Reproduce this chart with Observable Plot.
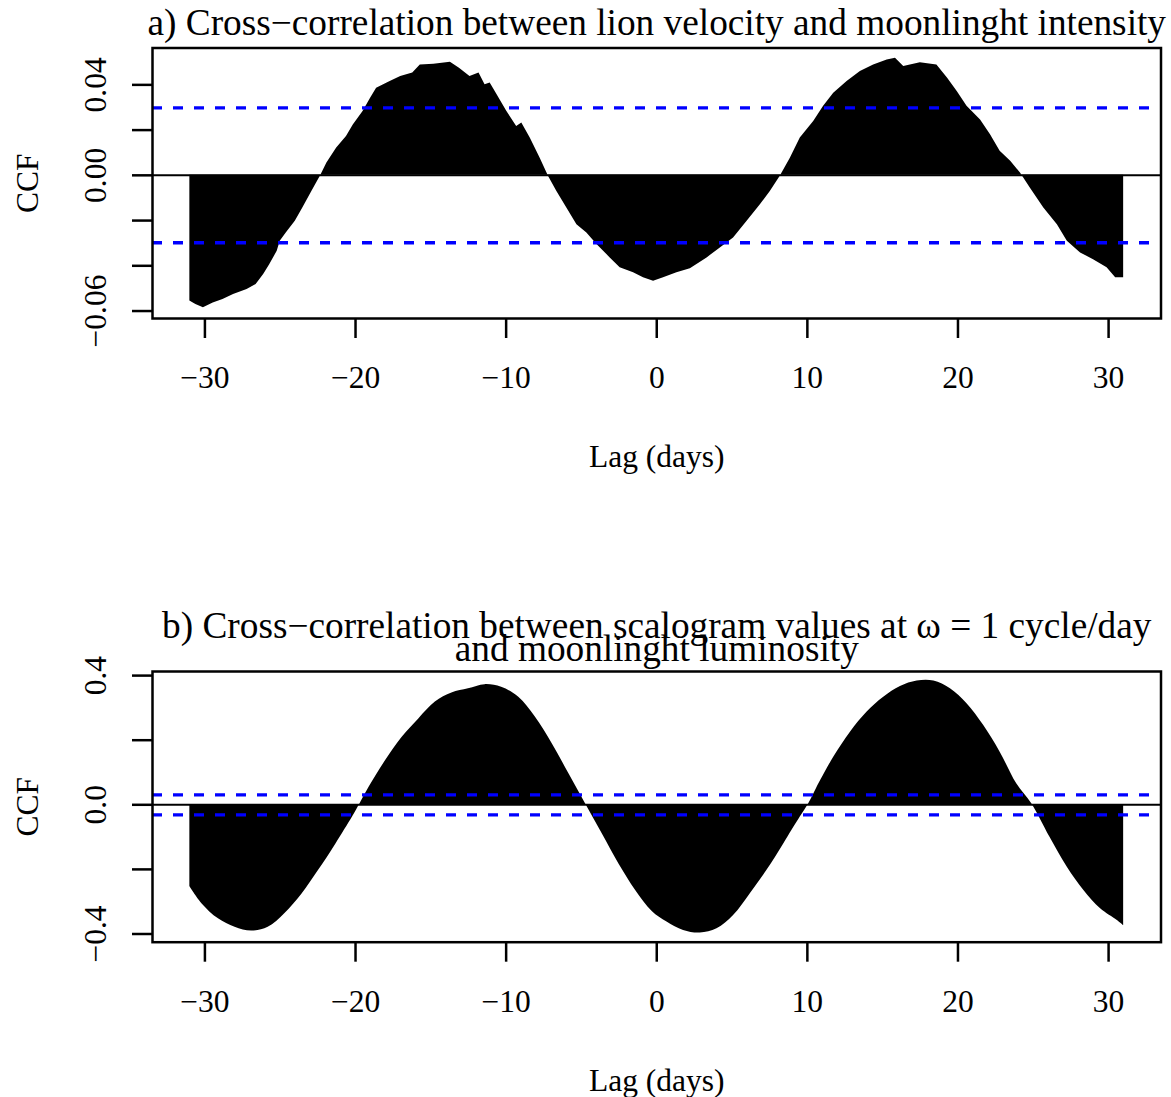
<!DOCTYPE html>
<html><head><meta charset="utf-8">
<script src="https://cdn.jsdelivr.net/npm/d3@7"></script>
<script src="https://cdn.jsdelivr.net/npm/@observablehq/plot@0.6"></script>
<style>
body{margin:0;background:#fff}
#chart{width:1171px;height:1097px;overflow:hidden}
#chart svg{display:block}
</style>
</head><body><div id="chart"></div>
<script>
// Panel a: CCF lion velocity vs moonlight intensity
const lagA = [-31.0,-30.6,-30.1,-29.45,-28.8,-28.1,-27.2,-26.6,-26.1,-25.7,-25.2,-25.0,-24.6,-24.0,-23.5,-22.9,-22.3,-21.9,-21.25,-20.6,-20.15,-19.5,-19.0,-18.6,-17.7,-17.0,-16.2,-15.7,-14.8,-13.7,-13.1,-12.4,-11.8,-11.4,-11.06,-10.6,-9.95,-9.3,-8.96,-8.4,-7.74,-7.19,-6.63,-5.97,-5.3,-4.64,-3.97,-3.09,-2.43,-1.54,-0.88,-0.21,0.45,1.34,2.23,3.34,4.22,5.1,6.0,6.88,7.54,8.2,8.87,9.53,10.42,11.08,11.75,12.64,13.52,14.4,15.3,15.85,16.4,17.5,18.6,19.3,19.95,20.6,21.5,22.16,22.8,23.5,24.15,24.8,25.7,26.6,27.26,28.14,29.0,29.9,30.47,31.0];
const ccfA = [-0.0556,-0.0571,-0.0586,-0.0564,-0.0549,-0.0527,-0.0505,-0.0483,-0.0439,-0.0395,-0.0336,-0.0291,-0.0255,-0.0203,-0.0144,-0.0071,0.0,0.0054,0.0121,0.0172,0.0223,0.0282,0.0341,0.0385,0.0415,0.0437,0.0452,0.0488,0.0491,0.0500,0.0474,0.0437,0.0452,0.0400,0.0408,0.0356,0.0282,0.0216,0.0231,0.0165,0.0076,-0.0004,-0.0071,-0.0144,-0.0218,-0.0255,-0.0306,-0.0365,-0.0409,-0.0431,-0.0453,-0.0468,-0.0453,-0.0431,-0.0413,-0.0365,-0.0321,-0.0277,-0.0203,-0.0130,-0.0071,-0.0004,0.0076,0.0165,0.0238,0.0305,0.0363,0.0415,0.0459,0.0488,0.0510,0.0518,0.0481,0.0498,0.0488,0.0430,0.0371,0.0305,0.0245,0.0179,0.0106,0.0062,0.0010,-0.0056,-0.0144,-0.0218,-0.0291,-0.0343,-0.0373,-0.0409,-0.0453,-0.0453];
const ciA = 0.0298;

// Panel b: CCF scalogram values vs moonlight luminosity
const lagB = [-31.0,-30.2,-29.1,-28.0,-26.9,-25.8,-24.7,-23.55,-22.45,-21.3,-20.2,-19.7,-19.1,-18.0,-16.9,-15.8,-14.7,-13.6,-12.5,-11.4,-10.3,-9.16,-8.05,-6.94,-5.83,-4.73,-3.62,-2.51,-1.4,-0.3,0.68,1.78,2.89,4.0,5.1,6.2,7.32,8.43,9.53,10.09,10.6,11.75,12.86,13.97,15.07,16.18,17.29,18.4,19.5,20.6,21.7,22.8,23.9,24.9,26.1,27.26,28.36,29.47,30.58,31.0];
const ccfB = [-0.253,-0.306,-0.353,-0.379,-0.391,-0.379,-0.337,-0.276,-0.203,-0.121,-0.038,0.003,0.054,0.137,0.209,0.266,0.318,0.346,0.359,0.372,0.364,0.333,0.271,0.189,0.096,0.003,-0.090,-0.183,-0.265,-0.330,-0.363,-0.389,-0.397,-0.384,-0.343,-0.276,-0.203,-0.121,-0.038,0.003,0.050,0.147,0.225,0.287,0.333,0.366,0.383,0.383,0.359,0.313,0.246,0.163,0.065,0.003,-0.100,-0.193,-0.265,-0.322,-0.358,-0.374];
const ciB = 0.031;

const xTicks = [-30, -20, -10, 0, 10, 20, 30];
const yTicksA = [-0.06, -0.04, -0.02, 0, 0.02, 0.04];
const yLabelsA = [-0.06, 0, 0.04];
const yTicksB = [-0.4, -0.2, 0, 0.2, 0.4];
const yLabelsB = [-0.4, 0, 0.4];
const titleA = ["a) Cross\u2212correlation between lion velocity and moonlinght intensity"];
const titleB1 = ["b) Cross\u2212correlation between scalogram values at \u03c9 = 1 cycle/day"];
const titleB2 = ["and moonlinght luminosity"];
const xLabel = ["Lag (days)"];
const yLabel = ["CCF"];

const FONT = "'Liberation Serif', 'Times New Roman', serif";
const FS = 31.5, TFS = 37.3;
const minus = s => s.replace("-", "\u2212");

function panel({lag, ccf, ci, height, marginTop, marginBottom, yDomain, yTicks, yLabels, yDigits, titles, curve}) {
  const data = lag.map((l, i) => ({lag: l, ccf: ccf[i]}));
  const marks = [
    Plot.areaY(data, {x: "lag", y: "ccf", fill: "black", curve}),
    Plot.ruleY([0], {stroke: "black", strokeWidth: 2}),
    Plot.ruleY([ci, -ci], {stroke: "#0000ff", strokeWidth: 3.3, strokeDasharray: "10 11"}),
    Plot.frame({stroke: "black", strokeWidth: 2.5}),
    Plot.axisX({ticks: xTicks, tickSize: 20, tickFormat: () => "", strokeWidth: 2.5, label: null}),
    Plot.axisY({ticks: yTicks, tickSize: 20, tickFormat: () => "", strokeWidth: 2.5, label: null}),
    Plot.text(xTicks, {x: d => d, text: d => minus(String(d)), frameAnchor: "bottom", lineAnchor: "bottom", dy: 69.7, fontSize: FS}),
    Plot.text(yLabels, {y: d => d, text: d => minus(d.toFixed(yDigits)), frameAnchor: "left", rotate: -90, textAnchor: "middle", lineAnchor: "bottom", dx: -47, fontSize: FS}),
    Plot.text(yLabel, {frameAnchor: "left", rotate: -90, textAnchor: "middle", lineAnchor: "bottom", dx: -114.5, fontSize: FS}),
    Plot.text(xLabel, {frameAnchor: "bottom", lineAnchor: "bottom", dy: 148.7, fontSize: FS}),
    ...titles.map(t => Plot.text(t.text, {frameAnchor: "top", lineAnchor: "bottom", dy: t.dy, fontSize: TFS}))
  ];
  return Plot.plot({
    width: 1171, height, marginLeft: 152, marginRight: 10.5, marginTop, marginBottom,
    style: {fontFamily: FONT, color: "black", background: "white", overflow: "visible"},
    x: {domain: [-33.48, 33.48]},
    y: {domain: yDomain},
    marks
  });
}

const chart = document.getElementById("chart");
chart.append(panel({
  lag: lagA, ccf: ccfA, ci: ciA, height: 548, marginTop: 47.5, marginBottom: 230,
  yDomain: [-0.0633, 0.0563], yTicks: yTicksA, yLabels: yLabelsA, yDigits: 2,
  titles: [{text: titleA, dy: -13}], curve: "linear"
}));
chart.append(panel({
  lag: lagB, ccf: ccfB, ci: ciB, height: 549, marginTop: 123, marginBottom: 155.3,
  yDomain: [-0.4254, 0.4127], yTicks: yTicksB, yLabels: yLabelsB, yDigits: 1,
  titles: [{text: titleB1, dy: -34}, {text: titleB2, dy: -11}], curve: "catmull-rom"
}));
</script>
</body></html>
